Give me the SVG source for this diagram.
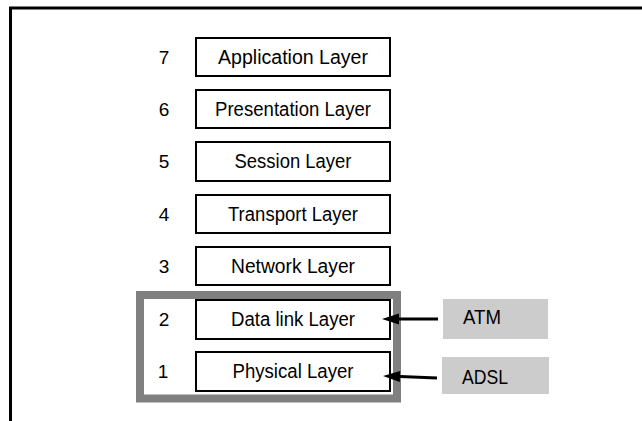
<svg xmlns="http://www.w3.org/2000/svg" width="642" height="421" viewBox="0 0 642 421">
  <style>
    .frame { fill: none; stroke: #000; stroke-width: 3; }
    .group { fill: none; stroke: #808080; stroke-width: 8; }
    .layer rect { fill: #fff; stroke: #000; stroke-width: 2; }
    .tag rect { fill: #cccccc; stroke: none; }
    text { font-family: "Liberation Sans", Arial, sans-serif; font-size: 20px; fill: #000; }
    .label { text-anchor: middle; }
    .num { text-anchor: middle; font-size: 19px; }
    .conn { stroke: #000; stroke-width: 3; fill: none; }
  </style>
  <defs>
    <marker id="arrow" markerUnits="userSpaceOnUse" markerWidth="18" markerHeight="12" refX="0" refY="5.5" orient="auto" overflow="visible">
      <path d="M0,0 L17,5.5 L0,11 z" fill="#000"/>
    </marker>
  </defs>

  <!-- page frame (top and left edges) -->
  <path class="frame" d="M10.5,421 V8 H642"/>

  <!-- highlight around the lower two layers -->
  <rect id="lower-layers" class="group" x="140" y="295" width="257" height="103.5"/>

  <g id="layer7" class="layer">
    <text class="num" x="164" y="64">7</text>
    <rect x="196" y="38" width="194" height="38"/>
    <text class="label" x="293" y="64" textLength="150" lengthAdjust="spacingAndGlyphs">Application Layer</text>
  </g>
  <g id="layer6" class="layer">
    <text class="num" x="164" y="116">6</text>
    <rect x="196" y="90" width="194" height="38"/>
    <text class="label" x="293" y="116" textLength="156" lengthAdjust="spacingAndGlyphs">Presentation Layer</text>
  </g>
  <g id="layer5" class="layer">
    <text class="num" x="164" y="168">5</text>
    <rect x="196" y="142" width="194" height="39"/>
    <text class="label" x="293" y="168" textLength="117" lengthAdjust="spacingAndGlyphs">Session Layer</text>
  </g>
  <g id="layer4" class="layer">
    <text class="num" x="164" y="221">4</text>
    <rect x="196" y="195" width="194" height="38"/>
    <text class="label" x="293" y="221" textLength="130" lengthAdjust="spacingAndGlyphs">Transport Layer</text>
  </g>
  <g id="layer3" class="layer">
    <text class="num" x="164" y="273">3</text>
    <rect x="196" y="247" width="194" height="38"/>
    <text class="label" x="293" y="273" textLength="124" lengthAdjust="spacingAndGlyphs">Network Layer</text>
  </g>
  <g id="layer2" class="layer">
    <text class="num" x="164" y="326">2</text>
    <rect x="196" y="300" width="194" height="39"/>
    <text class="label" x="293" y="326" textLength="124" lengthAdjust="spacingAndGlyphs">Data link Layer</text>
  </g>
  <g id="layer1" class="layer">
    <text class="num" x="163" y="378">1</text>
    <rect x="196" y="352" width="194" height="39"/>
    <text class="label" x="293" y="378" textLength="121" lengthAdjust="spacingAndGlyphs">Physical Layer</text>
  </g>

  <g id="atm" class="tag">
    <rect x="443" y="299" width="105" height="40"/>
    <text x="463" y="324" textLength="38" lengthAdjust="spacingAndGlyphs">ATM</text>
  </g>
  <g id="adsl" class="tag">
    <rect x="442" y="357" width="107" height="37"/>
    <text x="462" y="384" textLength="46" lengthAdjust="spacingAndGlyphs">ADSL</text>
  </g>

  <g id="connectors">
    <line class="conn" x1="438" y1="319" x2="399" y2="319" marker-end="url(#arrow)"/>
    <line class="conn" x1="437" y1="378" x2="400" y2="376.6" marker-end="url(#arrow)"/>
  </g>
</svg>
